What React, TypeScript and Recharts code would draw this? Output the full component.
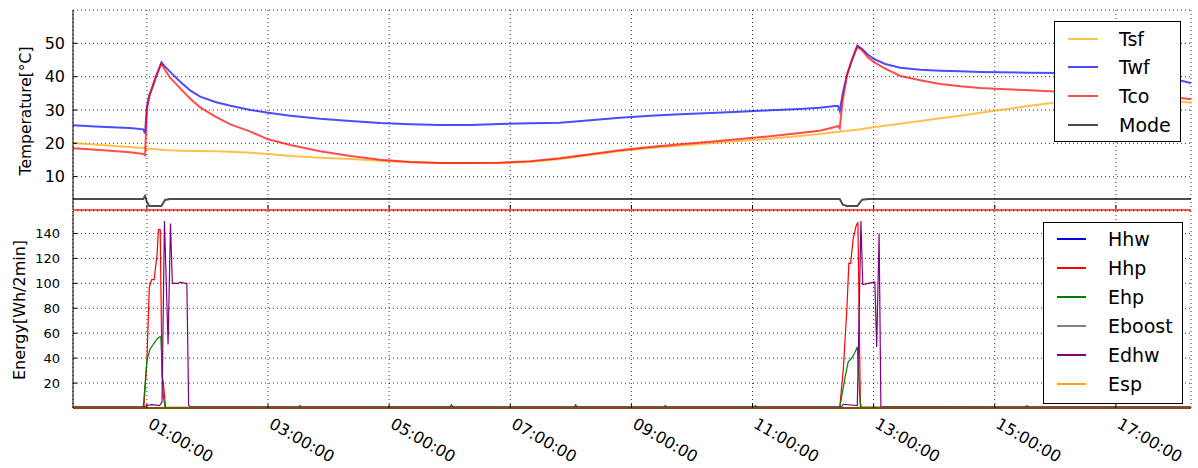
import React from 'react'
import { LineChart, Line, XAxis, YAxis, CartesianGrid, Legend } from 'recharts'

const FONT = '"DejaVu Sans", Verdana, sans-serif'
const X_DOMAIN: [number, number] = [-0.22, 18.24]

// hours relative to midnight, log starts a little before 00:00
const tempHours = [
  -0.22, 0.23, 0.72, 0.94, 0.97, 1.0, 1.04, 1.09, 1.15, 1.24, 1.3, 1.38, 1.55, 1.72, 1.88, 2.13,
  2.38, 2.71, 3.0, 3.37, 3.86, 4.36, 4.85, 5.35, 5.84, 6.34, 6.83, 7.33, 7.82, 8.32, 8.81, 9.31,
  9.8, 10.3, 10.79, 11.29, 11.78, 12.11, 12.36, 12.41, 12.44, 12.49, 12.56, 12.64, 12.73, 12.81,
  12.91, 13.02, 13.19, 13.44, 13.77, 14.1, 14.43, 14.76, 15.09, 15.58, 16.08, 16.57, 17.07, 17.56,
  17.89, 18.24,
]
const tsf = [
  20.1, 19.5, 18.9, 18.6, 18.5, 18.4, 18.4, 18.3, 18.2, 18.1, 18.0, 17.9, 17.8, 17.7, 17.7, 17.6,
  17.5, 17.2, 16.8, 16.2, 15.7, 15.3, 14.8, 14.3, 14.1, 14.1, 14.1, 14.5, 15.3, 16.5, 17.7, 18.6,
  19.3, 20.0, 20.7, 21.4, 22.2, 22.8, 23.3, 23.4, 23.5, 23.6, 23.7, 23.9, 24.1, 24.3, 24.6, 24.9,
  25.3, 25.9, 26.7, 27.5, 28.3, 29.2, 30.0, 31.3, 32.4, 33.1, 33.4, 33.3, 33.0, 32.2,
]
const twf = [
  25.4, 25.0, 24.6, 24.2, 23.0, 31.0, 34.5, 36.8, 40.0, 44.3, 43.0, 41.5, 38.5, 35.8, 34.0, 32.4,
  31.3, 30.0, 29.2, 28.3, 27.4, 26.7, 26.1, 25.7, 25.5, 25.5, 25.8, 26.0, 26.2, 26.9, 27.7, 28.3,
  28.7, 29.1, 29.5, 29.9, 30.3, 30.7, 31.2, 31.2, 29.7, 35.0, 40.5, 45.0, 49.3, 48.3, 46.5, 45.2,
  43.8, 42.7, 42.1, 41.8, 41.6, 41.4, 41.3, 41.2, 41.1, 41.0, 40.9, 40.5, 39.6, 38.1,
]
const tco = [
  18.5, 18.0, 17.3, 16.8, 16.4, 30.0, 34.0, 36.8, 40.0, 44.0, 42.0, 39.8, 36.5, 33.3, 30.8, 28.0,
  25.7, 23.5, 21.2, 19.5, 17.6, 16.2, 15.1, 14.4, 14.1, 14.1, 14.2, 14.6, 15.5, 16.7, 17.9, 18.9,
  19.7, 20.5, 21.3, 22.1, 23.1, 23.8, 24.9, 25.2, 24.5, 33.0, 40.5, 44.8, 49.0, 47.9, 45.7, 44.2,
  42.4, 40.2, 38.9, 37.8, 37.1, 36.6, 36.3, 35.9, 35.5, 35.2, 34.9, 34.5, 34.0, 33.2,
]
const mode = [
  3.3, 3.3, 3.3, 3.3, 4.2, 2.4, 1.2, 1.2, 1.2, 1.2, 3.0, 3.3, 3.3, 3.3, 3.3, 3.3,
  3.3, 3.3, 3.3, 3.3, 3.3, 3.3, 3.3, 3.3, 3.3, 3.3, 3.3, 3.3, 3.3, 3.3, 3.3, 3.3,
  3.3, 3.3, 3.3, 3.3, 3.3, 3.3, 3.3, 3.3, 3.3, 1.6, 1.2, 1.2, 1.2, 3.1, 3.3, 3.3,
  3.3, 3.3, 3.3, 3.3, 3.3, 3.3, 3.3, 3.3, 3.3, 3.3, 3.3, 3.3, 3.3, 3.3,
]

// energy per 2 minutes
const hhwHours = [-0.22, 18.24]
const hhw = [0, 0]
const hhpHours = [-0.22, 0.95, 1.0, 1.04, 1.08, 1.12, 1.17, 1.19, 1.22, 1.25, 1.27, 1.31, 12.44, 12.5, 12.56, 12.59, 12.62, 12.66, 12.71, 12.74, 12.78, 12.8, 18.24]
const hhp = [0, 0, 38, 97, 103, 103, 124, 143, 143, 25, 21, 0, 0, 32, 81, 116, 116, 135, 146, 149, 5, 0, 0]
const ehpHours = [-0.22, 0.94, 1.0, 1.05, 1.11, 1.17, 1.21, 1.23, 1.27, 1.3, 3.5, 3.53, 3.56, 6.0, 6.03, 6.06, 8.05, 8.08, 8.11, 9.53, 9.56, 9.59, 11.02, 11.05, 11.08, 12.44, 12.53, 12.58, 12.64, 12.69, 12.73, 12.78, 15.5, 15.53, 15.56, 18.24]
const ehp = [0.5, 0.5, 38, 47, 51.5, 55.5, 57, 57, 10, 0.5, 0.5, 2, 0.5, 0.5, 2.5, 0.5, 0.5, 2.5, 0.5, 0.5, 2, 0.5, 0.5, 2, 0.5, 0.5, 25, 37, 40, 44.5, 49, 1, 0.5, 2, 0.5, 0.5]
const eboostHours = [-0.22, 18.24]
const eboost = [0, 0]
const edhwHours = [-0.22, 0.95, 1.0, 1.08, 1.21, 1.25, 1.29, 1.35, 1.39, 1.42, 1.52, 1.55, 1.63, 1.66, 1.69, 1.72, 12.47, 12.5, 12.73, 12.79, 12.82, 12.91, 13.02, 13.05, 13.09, 13.12, 13.15, 18.24]
const edhw = [1, 1, 2, 2.7, 2, 5, 150, 51, 148, 100, 100, 101, 100, 100, 2, 1, 1, 3, 2, 150, 99, 100, 101, 49, 140, 0, 1, 1]
const espHours = [-0.22, 18.24]
const esp = [0, 0]

const timeTicks = [1, 3, 5, 7, 9, 11, 13, 15, 17]
const tempTicks = [10, 20, 30, 40, 50]
const energyTicks = [20, 40, 60, 80, 100, 120, 140]

const tempSeries = [
  { name: 'Tsf', color: '#ffa500' },
  { name: 'Twf', color: '#0000ff' },
  { name: 'Tco', color: '#ff0000' },
  { name: 'Mode', color: '#000000' },
]

const energySeries = [
  { name: 'Hhw', color: '#0000ff', hours: hhwHours, values: hhw, width: 1.2 },
  { name: 'Hhp', color: '#ff0000', hours: hhpHours, values: hhp, width: 1.2 },
  { name: 'Ehp', color: '#008000', hours: ehpHours, values: ehp, width: 1.2 },
  { name: 'Eboost', color: '#808080', hours: eboostHours, values: eboost, width: 1.2 },
  { name: 'Edhw', color: '#800080', hours: edhwHours, values: edhw, width: 1.2 },
  { name: 'Esp', color: '#ffa500', hours: espHours, values: esp, width: 2 },
]

const fmtTime = (h: number) => `${String(h).padStart(2, '0')}:00:00`

// matplotlib-style ticks pointing into the plot
const LeftTick = ({ x, y, payload, fontSize, gap }: any) => (
  <g>
    <line x1={x} x2={x + 4} y1={y} y2={y} stroke="#000" />
    <text x={x - gap} y={y} dy="0.36em" textAnchor="end" fontSize={fontSize} fontFamily={FONT} fill="#000">
      {payload.value}
    </text>
  </g>
)
const RightTick = ({ x, y }: any) => <line x1={x - 4} x2={x} y1={y} y2={y} stroke="#000" />
const TopTick = ({ x, y }: any) => <line x1={x} x2={x} y1={y} y2={y + 4} stroke="#000" />
const BottomTick = ({ x, y }: any) => <line x1={x} x2={x} y1={y - 1} y2={y - 5} stroke="#000" />
const TimeTick = ({ x, y, payload }: any) => (
  <g>
    <line x1={x} x2={x} y1={y} y2={y - 4} stroke="#000" />
    <text
      x={x}
      y={y + 19}
      transform={`rotate(30 ${x} ${y + 19})`}
      textAnchor="start"
      fontSize={16}
      fontFamily={FONT}
      fill="#000"
    >
      {fmtTime(payload.value)}
    </text>
  </g>
)

const YTitle = ({ text, cx, cy, fontSize }: any) => (
  <text
    x={cx}
    y={cy}
    transform={`rotate(-90 ${cx} ${cy})`}
    textAnchor="middle"
    dominantBaseline="central"
    fontSize={fontSize}
    fontFamily={FONT}
    fill="#000"
  >
    {text}
  </text>
)

const LegendBox = ({ items, width, height, first, step, lineX, textX, opacity }: any) => (
  <div
    style={{
      position: 'relative',
      width,
      height,
      border: '1px solid #000',
      background: '#fff',
      boxSizing: 'border-box',
      fontFamily: FONT,
      color: '#000',
    }}
  >
    {items.map((it: any, i: number) => (
      <div key={it.name} style={{ position: 'absolute', left: 0, top: Math.round(first + i * step), width: '100%' }}>
        <div
          style={{
            position: 'absolute',
            left: lineX[0],
            width: lineX[1] - lineX[0],
            top: -1,
            height: 2,
            background: it.color,
            opacity,
          }}
        />
        <div style={{ position: 'absolute', left: textX, top: -11, fontSize: 19, lineHeight: '23px', whiteSpace: 'nowrap' }}>
          {it.name}
        </div>
      </div>
    ))}
  </div>
)

export default function App() {
  const tempData = tempHours.map((h, i) => ({ h, Tsf: tsf[i], Twf: twf[i], Tco: tco[i], Mode: mode[i] }))

  return (
    <div style={{ position: 'absolute', left: 0, top: 0, width: 1198, height: 468, background: '#fff' }}>
      {/* energy */}
      <div style={{ position: 'absolute', left: 0, top: 210 }}>
        <LineChart width={1198} height={258} margin={{ top: 1, right: 7, bottom: 0, left: 0 }}>
          <CartesianGrid stroke="#000" strokeDasharray="1 3" strokeWidth={0.8} />
          <XAxis
            dataKey="h"
            type="number"
            domain={X_DOMAIN}
            ticks={timeTicks}
            interval={0}
            height={60}
            tickLine={false}
            tickSize={0}
            tickMargin={0}
            axisLine={{ stroke: '#000' }}
            tick={TimeTick}
          />
          <XAxis
            xAxisId="top"
            orientation="top"
            dataKey="h"
            type="number"
            domain={X_DOMAIN}
            ticks={timeTicks}
            interval={0}
            height={0}
            tickLine={false}
            tickSize={0}
            tickMargin={0}
            axisLine={{ stroke: '#000', strokeWidth: 1.5 }}
            tick={TopTick}
          />
          <YAxis
            domain={[0, 158]}
            ticks={energyTicks}
            interval={0}
            width={73}
            tickLine={false}
            tickSize={0}
            tickMargin={0}
            axisLine={{ stroke: '#000' }}
            tick={(p: any) => <LeftTick {...p} fontSize={13} gap={13} />}
            label={<YTitle text="Energy[Wh/2min]" cx={19.5} cy={100} fontSize={16} />}
          />
          <YAxis
            yAxisId="r"
            orientation="right"
            domain={[0, 158]}
            ticks={energyTicks}
            interval={0}
            width={0}
            tickLine={false}
            tickSize={0}
            tickMargin={0}
            axisLine={{ stroke: '#000' }}
            tick={RightTick}
          />
          {energySeries.map(s => (
            <Line
              key={s.name}
              data={s.hours.map((h, i) => ({ h, v: s.values[i] }))}
              dataKey="v"
              name={s.name}
              type="linear"
              stroke={s.color}
              strokeWidth={s.width}
              dot={false}
              isAnimationActive={false}
            />
          ))}
          <Legend
            verticalAlign="middle"
            align="center"
            layout="horizontal"
            wrapperStyle={{ left: 1043, top: 12, width: 140, height: 182 }}
            content={() => (
              <LegendBox items={energySeries} width={140} height={182} first={15.6} step={29.1} lineX={[13, 42]} textX={64} opacity={1} />
            )}
          />
        </LineChart>
      </div>

      {/* temperatures (on top so its red bottom edge stays visible) */}
      <div style={{ position: 'absolute', left: 0, top: 0 }}>
        <LineChart width={1198} height={211} data={tempData} margin={{ top: 10, right: 7, bottom: 0, left: 0 }}>
          <CartesianGrid stroke="#000" strokeDasharray="1 3" strokeWidth={0.8} />
          <XAxis
            dataKey="h"
            type="number"
            domain={X_DOMAIN}
            ticks={timeTicks}
            interval={0}
            allowDataOverflow
            height={1}
            tickLine={false}
            tickSize={0}
            tickMargin={0}
            axisLine={{ stroke: '#ff2020', strokeWidth: 1.5 }}
            tick={BottomTick}
          />
          <XAxis
            xAxisId="top"
            orientation="top"
            dataKey="h"
            type="number"
            domain={X_DOMAIN}
            ticks={timeTicks}
            interval={0}
            allowDataOverflow
            height={0}
            tickLine={false}
            tickSize={0}
            tickMargin={0}
            axisLine={{ stroke: '#000' }}
            tick={TopTick}
          />
          <YAxis
            domain={[0, 60]}
            ticks={tempTicks}
            interval={0}
            allowDataOverflow
            width={73}
            tickLine={false}
            tickSize={0}
            tickMargin={0}
            axisLine={{ stroke: '#000' }}
            tick={(p: any) => <LeftTick {...p} fontSize={16} gap={8} />}
            label={<YTitle text="Temperature[°C]" cx={25.5} cy={111} fontSize={15.5} />}
          />
          <YAxis
            yAxisId="r"
            orientation="right"
            domain={[0, 60]}
            ticks={tempTicks}
            interval={0}
            allowDataOverflow
            width={0}
            tickLine={false}
            tickSize={0}
            tickMargin={0}
            axisLine={{ stroke: '#000' }}
            tick={RightTick}
          />
          {tempSeries.map(s => (
            <Line
              key={s.name}
              dataKey={s.name}
              name={s.name}
              type="linear"
              stroke={s.color}
              strokeOpacity={0.7}
              strokeWidth={2}
              dot={false}
              isAnimationActive={false}
            />
          ))}
          <Legend
            verticalAlign="middle"
            align="center"
            layout="horizontal"
            wrapperStyle={{ left: 1054, top: 21, width: 127, height: 121 }}
            content={() => (
              <LegendBox items={tempSeries} width={127} height={121} first={16.7} step={28.7} lineX={[13, 43]} textX={64} opacity={0.7} />
            )}
          />
        </LineChart>
      </div>
    </div>
  )
}
